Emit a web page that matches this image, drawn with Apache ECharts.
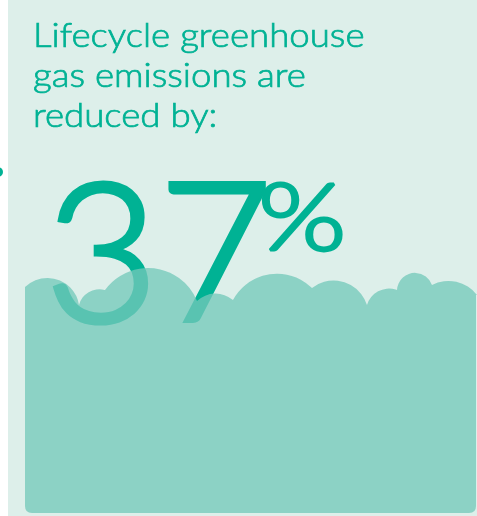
<!DOCTYPE html>
<html>
<head>
<meta charset="utf-8">
<script src="https://cdn.jsdelivr.net/npm/echarts@6/dist/echarts.min.js"></script>
<style>
    html, body { margin: 0; padding: 0; background: #ffffff; }
    #chart { width: 477px; height: 516px; }
</style>
</head>
<body>
<div id="chart"></div>
<script>
// headline text
const titleLines = ['Lifecycle greenhouse', 'gas emissions are', 'reduced by:']
const reduction = [37]   // percent

// cloud top edge: junction points between bumps, and the radius of each bump
const cloudX = [25, 79, 105, 197, 233, 312, 367, 397, 432, 477]
const cloudY = [287, 305, 290, 301, 300, 288, 305, 290, 285, 295]
const cloudR = [32, 21, 53, 27, 50, 35, 23, 18, 36]
const cloudBottom = [513]

const teal = '#00b294'

// whole cloud as one path so the translucent fill never doubles up
function renderCloud(params, api) {
    const pts = cloudX.map((x, i) => api.coord([x, cloudY[i]]))
    const bottom = api.coord([0, cloudBottom[0]])[1]
    const left = pts[0][0]
    const right = pts[pts.length - 1][0] - 1
    const rr = 7
    let d = `M ${left} ${bottom - rr} L ${left} ${pts[0][1]}`
    cloudR.forEach((r, i) => {
        const rp = api.size([r, 0])[0]
        d += ` A ${rp} ${rp} 0 0 1 ${pts[i + 1][0]} ${pts[i + 1][1]}`
    })
    d += ` L ${right} ${pts[pts.length - 1][1]} L ${right} ${bottom - rr}`
    d += ` Q ${right} ${bottom} ${right - rr} ${bottom}`
    d += ` L ${left + rr} ${bottom} Q ${left} ${bottom} ${left} ${bottom - rr} Z`
    return {
        type: 'path',
        shape: { pathData: d },
        style: { fill: 'rgba(116,200,186,0.77)' },
    }
}

const chart = echarts.init(document.getElementById('chart'), null, { renderer: 'canvas' })

chart.setOption({
    backgroundColor: '#ffffff',
    animation: false,
    grid: { left: 0, right: 0, top: 0, bottom: 0 },
    xAxis: { type: 'value', min: 0, max: 477, show: false },
    yAxis: { type: 'value', min: 0, max: 516, inverse: true, show: false },
    graphic: [
        { type: 'rect', z: 0, shape: { x: 8, y: 0, width: 469, height: 516 }, style: { fill: '#ddefea' } },
        { type: 'circle', z: 1, shape: { cx: -2, cy: 172, r: 5 }, style: { fill: teal } },
        ...titleLines.map((t, i) => ({
            type: 'text', z: 1,
            x: 33, y: 36 + i * 40, scaleX: 1.11,
            style: {
                text: t, x: 0, y: 0,
                fontFamily: 'Lato', fontSize: 33, fontWeight: 300,
                fill: teal, stroke: teal, lineWidth: 0.7,
                verticalAlign: 'middle',
            },
        })),
        {
            // big number, light face thickened with a stroke of the same colour
            type: 'text', z: 1,
            x: 45, y: 258, scaleX: 1.01,
            style: {
                text: String(reduction[0]), x: 0, y: 0,
                fontFamily: 'Lato', fontSize: 194, fontWeight: 300,
                fill: teal, stroke: teal, lineWidth: 5, lineJoin: 'round',
                verticalAlign: 'middle',
            },
        },
        {
            type: 'text', z: 1,
            x: 258, y: 220, scaleX: 1.22,
            style: {
                text: '%', x: 0, y: 0,
                fontFamily: 'Lato', fontSize: 93, fontWeight: 300,
                fill: teal, stroke: teal, lineWidth: 3, lineJoin: 'round',
                verticalAlign: 'middle',
            },
        },
    ],
    series: [{
        type: 'custom',
        z: 5,
        renderItem: renderCloud,
        data: [[0, 0]],
        silent: true,
    }],
})
</script>
</body>
</html>
